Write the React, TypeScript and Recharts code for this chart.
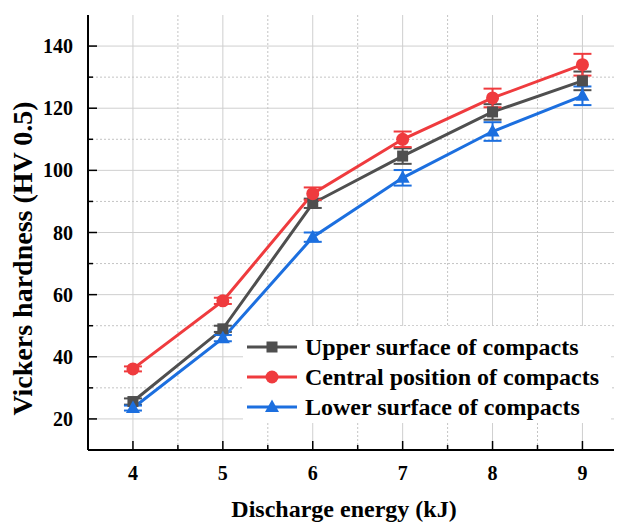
import { LineChart, Line, XAxis, YAxis, CartesianGrid, ErrorBar, Legend } from 'recharts';

// Discharge energy (kJ)
const energy = [4, 5, 6, 7, 8, 9];

// Vickers hardness (HV 0.5) with standard deviations
const upperSurface = [25.6, 49.0, 89.4, 104.6, 118.8, 128.8];
const upperErr = [1, 1, 1.5, 2.5, 2.5, 3];
const centralPosition = [36.1, 58.0, 92.5, 110.0, 123.3, 134.0];
const centralErr = [0.8, 1, 2, 2.5, 3, 3.5];
const lowerSurface = [23.5, 46.0, 78.5, 97.6, 112.5, 124.0];
const lowerErr = [0.8, 1, 1.5, 2.5, 3, 3];

const xMajorTicks = [4, 5, 6, 7, 8, 9];
const xMinorTicks = [4.5, 5.5, 6.5, 7.5, 8.5];
const yMajorTicks = [20, 40, 60, 80, 100, 120, 140];
const yMinorTicks = [30, 50, 70, 90, 110, 130];

const FONT = '"Liberation Serif", "Times New Roman", serif';
const GRAY = '#4f4f4f';
const RED = '#ef3b3e';
const BLUE = '#1c6fdf';

const chartData = energy.map((e, i) => ({
  energy: e,
  upper: upperSurface[i],
  upperErr: upperErr[i],
  central: centralPosition[i],
  centralErr: centralErr[i],
  lower: lowerSurface[i],
  lowerErr: lowerErr[i],
}));

const series = [
  { key: 'upper', name: 'Upper surface of compacts', color: GRAY, shape: 'square' },
  { key: 'central', name: 'Central position of compacts', color: RED, shape: 'circle' },
  { key: 'lower', name: 'Lower surface of compacts', color: BLUE, shape: 'triangle' },
];

const allXTicks = [...xMajorTicks, ...xMinorTicks].sort((a, b) => a - b);
const allYTicks = [...yMajorTicks, ...yMinorTicks].sort((a, b) => a - b);

const Marker = ({ cx, cy, shape, color }: any) => {
  if (cx == null || cy == null) return null;
  if (shape === 'square') {
    return <rect x={cx - 5.5} y={cy - 5.5} width={11} height={11} fill={color} />;
  }
  if (shape === 'circle') {
    return <circle cx={cx} cy={cy} r={6.5} fill={color} />;
  }
  return <polygon points={`${cx},${cy - 7.5} ${cx + 7},${cy + 5} ${cx - 7},${cy + 5}`} fill={color} />;
};

const tickText = {
  fontFamily: FONT,
  fontWeight: 'bold' as const,
  fontSize: 20,
  fill: '#000',
};

const titleText = {
  fontFamily: FONT,
  fontWeight: 'bold' as const,
  fill: '#000',
};

const BottomTick = ({ x, y, payload }: any) => {
  const major = xMajorTicks.includes(payload.value);
  return (
    <g>
      <line x1={x} y1={y} x2={x} y2={y - (major ? 9 : 5)} stroke="#000" strokeWidth={1.5} />
      {major && (
        <text x={x} y={y + 23} dy="0.35em" textAnchor="middle" style={tickText}>
          {payload.value}
        </text>
      )}
    </g>
  );
};

const TopTick = ({ x, y, payload }: any) => {
  const major = xMajorTicks.includes(payload.value);
  if (!major) return null;
  return <line x1={x} y1={y} x2={x} y2={y + 9} stroke="#000" strokeWidth={1.5} />;
};

const LeftTick = ({ x, y, payload }: any) => {
  const major = yMajorTicks.includes(payload.value);
  return (
    <g>
      <line x1={x} y1={y} x2={x + (major ? 9 : 5)} y2={y} stroke="#000" strokeWidth={1.5} />
      {major && (
        <text x={x - 15} y={y} dy="0.35em" textAnchor="end" style={tickText}>
          {payload.value}
        </text>
      )}
    </g>
  );
};

const RightTick = ({ x, y, payload }: any) => {
  const major = yMajorTicks.includes(payload.value);
  return <line x1={x} y1={y} x2={x - (major ? 9 : 5)} y2={y} stroke="#000" strokeWidth={1.5} />;
};

const XTitle = ({ viewBox }: any) => {
  const { x, y, height } = viewBox;
  return (
    <text x={x + 256} y={y + height - 5} textAnchor="middle" style={{ ...titleText, fontSize: 24 }}>
      Discharge energy (kJ)
    </text>
  );
};

const YTitle = ({ viewBox }: any) => {
  const { x, y, height } = viewBox;
  const cx = x + 14.5;
  const cy = y + height / 2 + 26;
  return (
    <text
      x={cx}
      y={cy}
      dy="0.35em"
      textAnchor="middle"
      transform={`rotate(-90, ${cx}, ${cy})`}
      style={{ ...titleText, fontSize: 28 }}
    >
      Vickers hardness (HV 0.5)
    </text>
  );
};

const renderLegend = () => (
  <div style={{ paddingTop: 6 }}>
    {series.map((s) => (
      <div key={s.key} style={{ display: 'flex', alignItems: 'center', height: 30 }}>
        <svg width={58} height={20} style={{ marginLeft: 4, flex: 'none' }}>
          <line x1={0} y1={10} x2={50} y2={10} stroke={s.color} strokeWidth={3} />
          <Marker cx={25} cy={10} shape={s.shape} color={s.color} />
        </svg>
        <span
          style={{
            fontFamily: FONT,
            fontWeight: 'bold',
            fontSize: 24,
            lineHeight: '30px',
            color: '#000',
            whiteSpace: 'nowrap',
          }}
        >
          {s.name}
        </span>
      </div>
    ))}
  </div>
);

const App = () => {
  return (
    <div style={{ width: 614, height: 514, fontFamily: FONT }}>
      <LineChart
        width={614}
        height={514}
        data={chartData}
        margin={{ top: 7, right: 0, bottom: 0, left: 0 }}
      >
        <CartesianGrid
          stroke="#cfcfcf"
          strokeWidth={1}
          horizontalValues={yMajorTicks}
          verticalValues={xMajorTicks}
        />
        <CartesianGrid
          stroke="#c4c4c4"
          strokeWidth={1}
          strokeDasharray="2 2"
          horizontalValues={yMinorTicks}
          verticalValues={xMinorTicks}
        />
        <XAxis
          dataKey="energy"
          type="number"
          domain={[3.5, 9.44]}
          allowDataOverflow
          ticks={allXTicks}
          interval={0}
          height={72}
          tickSize={0}
          tickMargin={0}
          tickLine={false}
          tick={<BottomTick />}
          axisLine={{ stroke: '#000', strokeWidth: 2 }}
          label={<XTitle />}
        />
        <XAxis
          xAxisId="top"
          dataKey="energy"
          type="number"
          orientation="top"
          domain={[3.5, 9.44]}
          allowDataOverflow
          ticks={allXTicks}
          interval={0}
          height={0}
          tickSize={0}
          tickMargin={0}
          tickLine={false}
          tick={<TopTick />}
          axisLine={{ stroke: '#000', strokeWidth: 2 }}
        />
        <YAxis
          type="number"
          domain={[10, 150]}
          allowDataOverflow
          ticks={allYTicks}
          interval={0}
          width={80}
          tickSize={0}
          tickMargin={0}
          tickLine={false}
          tick={<LeftTick />}
          axisLine={{ stroke: '#000', strokeWidth: 2 }}
          label={<YTitle />}
        />
        <YAxis
          yAxisId="right"
          type="number"
          orientation="right"
          domain={[10, 150]}
          allowDataOverflow
          ticks={allYTicks}
          interval={0}
          width={0}
          tickSize={0}
          tickMargin={0}
          tickLine={false}
          tick={<RightTick />}
          axisLine={false}
        />
        <Legend
          layout="vertical"
          align="center"
          verticalAlign="middle"
          content={renderLegend}
          wrapperStyle={{ left: 235, top: 318, width: 368, height: 97, background: '#fff' }}
        />
        {series.map((s) => (
          <Line
            key={s.key}
            dataKey={s.key}
            name={s.name}
            stroke={s.color}
            strokeWidth={3}
            isAnimationActive={false}
            dot={(p: any) => <Marker key={`${s.key}-${p.index}`} cx={p.cx} cy={p.cy} shape={s.shape} color={s.color} />}
            activeDot={false}
          >
            <ErrorBar
              dataKey={`${s.key}Err`}
              direction="y"
              width={9}
              stroke={s.color}
              strokeWidth={2}
              isAnimationActive={false}
            />
          </Line>
        ))}
      </LineChart>
    </div>
  );
};

export default App;
